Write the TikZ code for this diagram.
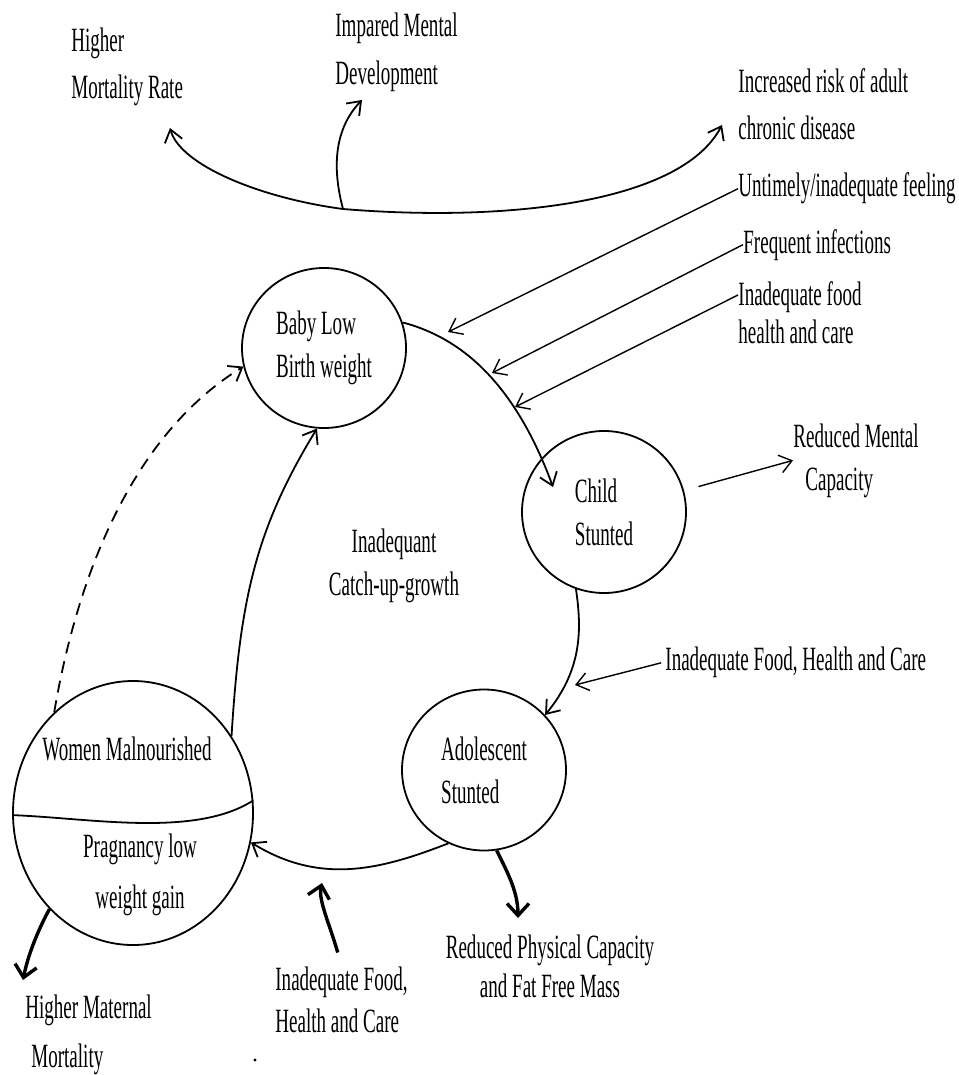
\documentclass[tikz,border=0pt]{standalone}
\usepackage{fontspec}
\setmainfont{Liberation Serif}[FakeStretch=0.56]
\usepackage{tikz}
\usetikzlibrary{shapes,arrows.meta}

\begin{document}
\begin{tikzpicture}[x=0.5pt,y=-0.5pt]

	\tikzstyle{stage} = [ellipse, draw, line width=0.9pt, inner sep=0pt, align=left, font=\fontsize{17}{21.5}\selectfont]
	\tikzstyle{txt}   = [inner sep=0pt, align=left, anchor=base west, font=\fontsize{17}{23.5}\selectfont]
	\tikzstyle{flow}  = [line width=0.9pt, -{Straight Barb[length=6pt,width=9pt]}]
	\tikzstyle{cause} = [line width=0.7pt, -{Straight Barb[length=6pt,width=9pt]}]
	\tikzstyle{twoway}= [line width=0.9pt, {Straight Barb[length=6pt,width=9pt]}-{Straight Barb[length=6pt,width=9pt]}]
	\tikzstyle{heavy} = [line width=1.7pt, -{Straight Barb[length=6pt,width=11pt]}]

	\useasboundingbox (0,0) rectangle (958,1075);

	% the cycle
	\node [stage, minimum width=82pt, minimum height=80pt](baby) at (324,348) {Baby Low\\Birth weight};
	\node [stage, minimum width=82pt, minimum height=81pt](child) at (604,512) {Child\\Stunted};
	\node [stage, minimum width=82pt, minimum height=80.5pt](adol) at (484,770) {Adolescent\\Stunted};
	\node [stage, minimum width=120pt, minimum height=132pt](women) at (133,813) {};
	\node [txt](wmal) at (42,760) {Women Malnourished};
	\node [txt, anchor=base, align=center, font=\fontsize{17}{25.5}\selectfont](wpreg) at (140,908) {Pragnancy low\\weight gain};
	\draw [line width=0.9pt] (women.181) .. controls (90,818) and (195,838) .. (women.6);
	\node [txt, anchor=base, align=center, font=\fontsize{17}{21.5}\selectfont](catchup) at (394,595) {Inadequant\\Catch-up-growth};

	% outcomes and causes
	\node [txt](hmort) at (71,99) {Higher\\Mortality Rate};
	\node [txt, font=\fontsize{17}{24}\selectfont](impdev) at (335,85) {Impared Mental\\Development};
	\node [txt](chronic) at (738,140) {Increased risk of adult\\chronic disease};
	\node [txt](feedng) at (738,197) {Untimely/inadequate feeling};
	\node [txt](infect) at (743,253) {Frequent infections};
	\node [txt, font=\fontsize{17}{19}\selectfont](foodtop) at (738,343) {Inadequate food\\health and care};
	\node [txt, font=\fontsize{17}{21.5}\selectfont](rmental) at (793,490) {Reduced Mental\\\hspace{6pt}Capacity};
	\node [txt](foodmid) at (665,670) {Inadequate Food, Health and Care};
	\node [txt, anchor=base, align=center, font=\fontsize{17}{19.5}\selectfont](rphys) at (550,997) {Reduced Physical Capacity\\and Fat Free Mass};
	\node [txt, font=\fontsize{17}{21}\selectfont](foodbot) at (275,1032) {Inadequate Food,\\Health and Care};
	\node [txt, font=\fontsize{17}{24.5}\selectfont](hmat) at (25,1067) {Higher Maternal\\\hspace{3pt}Mortality};

	\coordinate (arcmid) at (343,209);
	\coordinate (mortend) at (170,128);
	\coordinate (chronend) at (722,125);
	\coordinate (mentend) at (362,100);
	\coordinate (feedhit) at (448,332);
	\coordinate (infhit) at (492,373);
	\coordinate (foodhit) at (515,407);
	\coordinate (childin) at (553,487);
	\coordinate (carehit) at (575,685);
	\coordinate (gainhit) at (322,883);
	\coordinate (physend) at (518,918);
	\coordinate (matend) at (23,980);

	\draw [flow] (baby.18) .. controls (450,335) and (510,370) .. (childin);
	\draw [flow] (child.-110) .. controls (582,630) and (582,670) .. (adol.42);
	\draw [flow] (adol.-116) .. controls (380,870) and (320,885) .. (women.-14);
	\draw [flow] (women.38) .. controls (240,600) and (255,530) .. (baby.-95);
	\draw [flow, dash pattern=on 6pt off 4pt] (women.128) .. controls (80,560) and (140,430) .. (baby.193);

	\draw [twoway] (mortend) .. controls (180,165) and (260,198) .. (arcmid) .. controls (500,222) and (680,205) .. (chronend);
	\draw [flow] (arcmid) .. controls (330,160) and (338,125) .. (mentend);

	\draw [cause] (feedng.west) -- (feedhit);
	\draw [cause] (infect.west) -- (infhit);
	\draw [cause] ([yshift=24pt]foodtop.base west) -- (foodhit);
	\draw [cause, shorten <=2pt] (foodmid.west) -- (carehit);
	\draw [cause, shorten <=7.5pt] (child.15) -- (rmental.west);

	\draw [heavy] (adol.-81) .. controls (505,868) and (518,890) .. (physend);
	\draw [heavy, shorten <=7pt] (foodbot.north) .. controls (330,925) and (318,900) .. (gainhit);
	\draw [heavy] (women.-131) .. controls (38,930) and (28,955) .. (matend);

	\fill (255,1060) circle (0.8pt);

\end{tikzpicture}
\end{document}
